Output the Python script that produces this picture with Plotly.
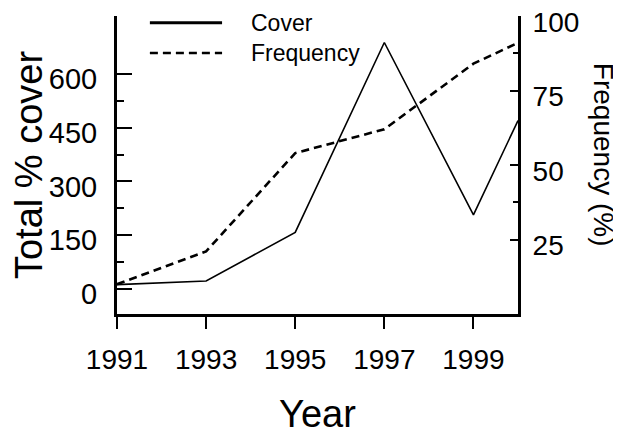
import plotly.graph_objects as go

years = [1991, 1993, 1995, 1997, 1999, 2000]
cover = [12, 22, 158, 688, 207, 470]
frequency = [10, 21, 54, 62, 84, 91]
series_names = ["Cover", "Frequency"]

x_ticks = [1991, 1993, 1995, 1997, 1999]
cover_ticks = [0, 150, 300, 450, 600]
cover_minor = [75, 225, 375, 525]
freq_ticks = [25, 50, 75, 100]
freq_minor = [37.5, 87.5]

FONT = "Liberation Sans, Arial, sans-serif"
DASH = "8px,5px"

fig = go.Figure()
fig.add_trace(go.Scatter(x=years, y=cover, name=series_names[0], mode="lines",
                         line=dict(color="black", width=1.6), yaxis="y"))
fig.add_trace(go.Scatter(x=years, y=frequency, name=series_names[1], mode="lines",
                         line=dict(color="black", width=2.6, dash=DASH), yaxis="y2"))

# page body has an 8px margin, so the figure is 8px smaller and margins shifted
fig.update_layout(
    width=613, height=429,
    margin=dict(l=109, r=103, t=8, b=123),
    paper_bgcolor="white", plot_bgcolor="white",
    font=dict(family=FONT, color="black", size=28),
    showlegend=False,
    xaxis=dict(
        range=[1991, 2000], tickvals=x_ticks, ticks="outside", ticklen=12, tickwidth=2,
        tickcolor="black", showline=True, linewidth=3, linecolor="black",
        showgrid=False, zeroline=False, tickfont=dict(size=28), ticklabelstandoff=6,
        automargin=False,
        title=dict(text="Year", font=dict(size=38), standoff=27),
    ),
    yaxis=dict(
        range=[-70, 762], tickvals=cover_ticks, ticks="inside", ticklen=15, tickwidth=2,
        tickcolor="black", showline=True, linewidth=3, linecolor="black",
        showgrid=False, zeroline=False, tickfont=dict(size=29), ticklabelstandoff=11,
        ticklabelshift=5, automargin=False,
        minor=dict(tickvals=cover_minor, ticks="inside", ticklen=7, tickwidth=1.5,
                   tickcolor="black", showgrid=False),
        title=dict(text="Total % cover", font=dict(size=38), standoff=10),
    ),
    yaxis2=dict(
        overlaying="y", side="right", range=[0, 100], tickvals=freq_ticks,
        ticks="inside", ticklen=8, tickwidth=2, tickcolor="black",
        showline=True, linewidth=3, linecolor="black", showgrid=False, zeroline=False,
        tickfont=dict(size=28), ticklabelstandoff=6, ticklabelshift=6,
        automargin=False, ticklabeloverflow="allow",
        minor=dict(tickvals=freq_minor, ticks="inside", ticklen=5, tickwidth=1.5,
                   tickcolor="black", showgrid=False),
    ),
)

# right-hand title reads top to bottom
fig.add_annotation(text="Frequency (%)", textangle=90, xref="paper", yref="paper",
                   x=1.212, y=0.534, xanchor="center", yanchor="middle",
                   showarrow=False, font=dict(size=28))

# hand-drawn legend in the top-left corner
legend_y = [0.977, 0.876]
legend_dash = ["solid", DASH]
legend_width = [3, 2.5]
for name, ly, dash, w in zip(series_names, legend_y, legend_dash, legend_width):
    fig.add_shape(type="line", xref="paper", yref="paper", x0=0.082, x1=0.262,
                  y0=ly, y1=ly, line=dict(color="black", width=w, dash=dash))
    fig.add_annotation(text=name, xref="paper", yref="paper", x=0.33, y=ly,
                       xanchor="left", yanchor="middle", showarrow=False,
                       font=dict(size=23))

fig.write_html("out.html")
